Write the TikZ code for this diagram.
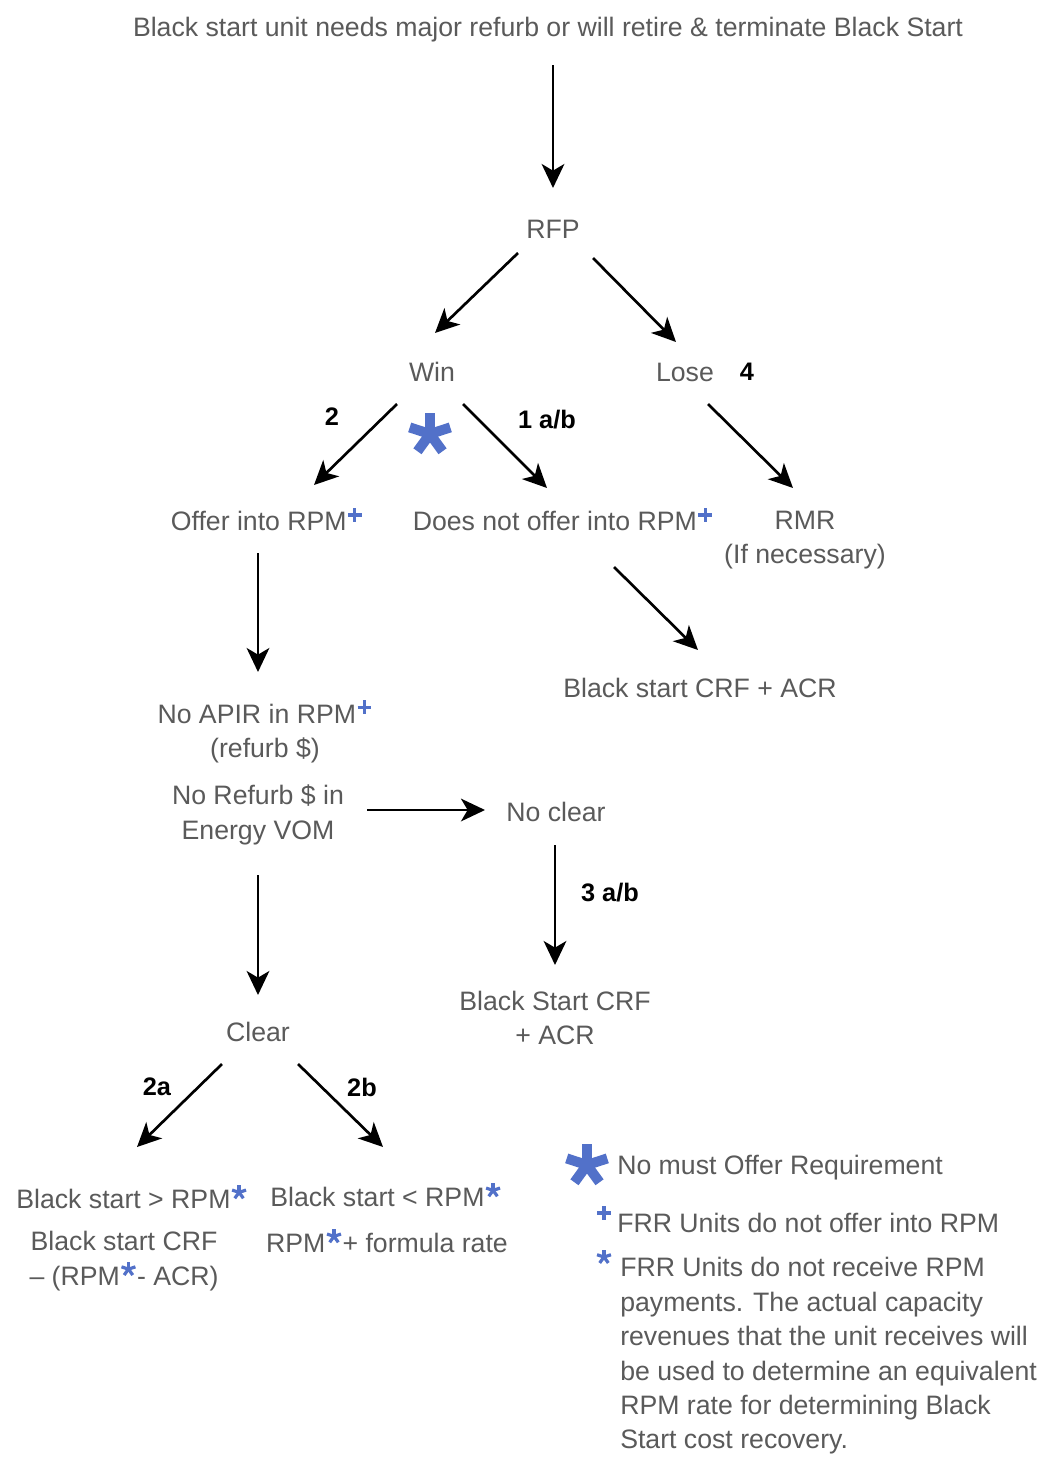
\documentclass[tikz,border=0pt]{standalone}
\usepackage{fontspec}
\setmainfont{Liberation Sans}
\usetikzlibrary{arrows.meta,calc}
\definecolor{txtc}{HTML}{5A5A5A}
\definecolor{astblue}{HTML}{5271C9}
\newcommand\plusm{\tikz[baseline=0pt]{\draw[astblue,line width=2.3pt] (0.5pt,12pt)--(10.5pt,12pt) (5.5pt,7pt)--(5.5pt,17pt);}}
\newcommand\astm{\tikz[baseline=0pt]{\foreach \a in {90,162,234,306,18}{\draw[astblue,line width=2.4pt] (5.5pt,12pt) -- ++(\a:5.5pt);}}}
\tikzset{
  bigast/.pic={\foreach \a in {90,162,234,306,18}{\draw[astblue,line width=7.5pt] (0pt,0pt) -- (\a:16pt);}},
  smallast/.pic={\foreach \a in {90,162,234,306,18}{\draw[astblue,line width=2.4pt] (0pt,0pt) -- (\a:5.5pt);}},
  smallplus/.pic={\draw[astblue,line width=2.3pt] (-5pt,0pt)--(5pt,0pt) (0pt,-5pt)--(0pt,5pt);}
}
\begin{document}
\begin{tikzpicture}[x=0.75pt,y=-0.75pt,
  t/.style={font=\fontsize{20}{25.8}\selectfont, text=txtc, inner sep=0pt, align=center},
  lbl/.style={font=\bfseries\fontsize{19}{22}\selectfont, text=black, inner sep=0pt},
  arr/.style={-{Stealth[length=18pt,width=17pt,inset=5pt]}, line width=2pt, black}]
\useasboundingbox (0,0) rectangle (1045,1479);
\fill[white] (0,0) rectangle (1045,1479);

\node[t] (title) at (548,30) {Black start unit needs major refurb or will retire \& terminate Black Start};
\node[t] (rfp) at (553,229) {RFP};
\node[t] (win) at (432,372) {Win};
\node[t] (lose) at (685,372) {Lose};
\node[t] (offer) at (267,519) {Offer into RPM\plusm};
\node[t] (doesnot) at (563,519) {Does not offer into RPM\plusm};
\node[t] (rmr) at (805,540) {RMR\\(If necessary)};
\node[t] (bscrf) at (700,688) {Black start CRF + ACR};
\node[t] (apir) at (265,731) {No APIR in RPM\plusm\\(refurb \$)};
\node[t] (vom) at (258,815) {No Refurb \$ in\\Energy VOM};
\node[t] (noclear) at (556,812) {No clear};
\node[t] (bs2) at (555,1018) {Black Start CRF\\+ ACR};
\node[t] (clear) at (258,1032) {Clear};
\node[t] (gt) at (132,1196) {Black start > RPM\astm};
\node[t] (gtsub) at (124,1261) {Black start CRF\\– (RPM\astm- ACR)};
\node[t] (lt) at (386,1194) {Black start < RPM\astm};
\node[t] (ltsub) at (387,1240) {RPM\astm+ formula rate};

\pic at (430,434) {bigast};

\node[lbl] (l2) at (332,417) {2};
\node[lbl] (l1ab) at (547,420) {1 a/b};
\node[lbl] (l4) at (747,372) {4};
\node[lbl] (l3ab) at (610,893) {3 a/b};
\node[lbl] (l2a) at (157,1087) {2a};
\node[lbl] (l2b) at (362,1087) {2b};

\draw[arr] ($(title)+(5,35)$) -- ($(rfp)+(0,-41)$);
\draw[arr] ($(rfp)+(-35,24)$) -- ($(win)+(3,-39)$);
\draw[arr] ($(rfp)+(40,29)$) -- ($(lose)+(-9,-30)$);
\draw[arr] ($(win)+(-35,32)$) -- ($(offer)+(47,-34)$);
\draw[arr] ($(win)+(31,32)$) -- ($(doesnot)+(-16,-31)$);
\draw[arr] ($(lose)+(23,32)$) -- ($(rmr)+(-12,-52)$);
\draw[arr] ($(offer)+(-9,34)$) -- ($(apir)+(-7,-59)$);
\draw[arr] ($(doesnot)+(51,48)$) -- ($(bscrf)+(-2,-38)$);
\draw[arr] ($(vom)+(109,-5)$) -- ($(noclear)+(-71,-2)$);
\draw[arr] ($(noclear)+(-1,33)$) -- ($(bs2)+(0,-53)$);
\draw[arr] ($(vom)+(0,60)$) -- ($(clear)+(0,-37)$);
\draw[arr] ($(clear)+(-36,32)$) -- ($(gt)+(5,-49)$);
\draw[arr] ($(clear)+(40,32)$) -- ($(lt)+(-3,-47)$);

% legend
\pic at (587,1165) {bigast};
\node[t, anchor=west] (leg1) at (617,1168) {No must Offer Requirement};
\pic at (604,1213) {smallplus};
\node[t, anchor=west] (leg2) at (617,1223) {FRR Units do not offer into RPM};
\pic at (604,1257) {smallast};
\node[t, anchor=west, align=left] (leg3) at (620,1356) {FRR Units do not receive RPM\\payments. The actual capacity\\revenues that the unit receives will\\be used to determine an equivalent\\RPM rate for determining Black\\Start cost recovery.};
\end{tikzpicture}
\end{document}
